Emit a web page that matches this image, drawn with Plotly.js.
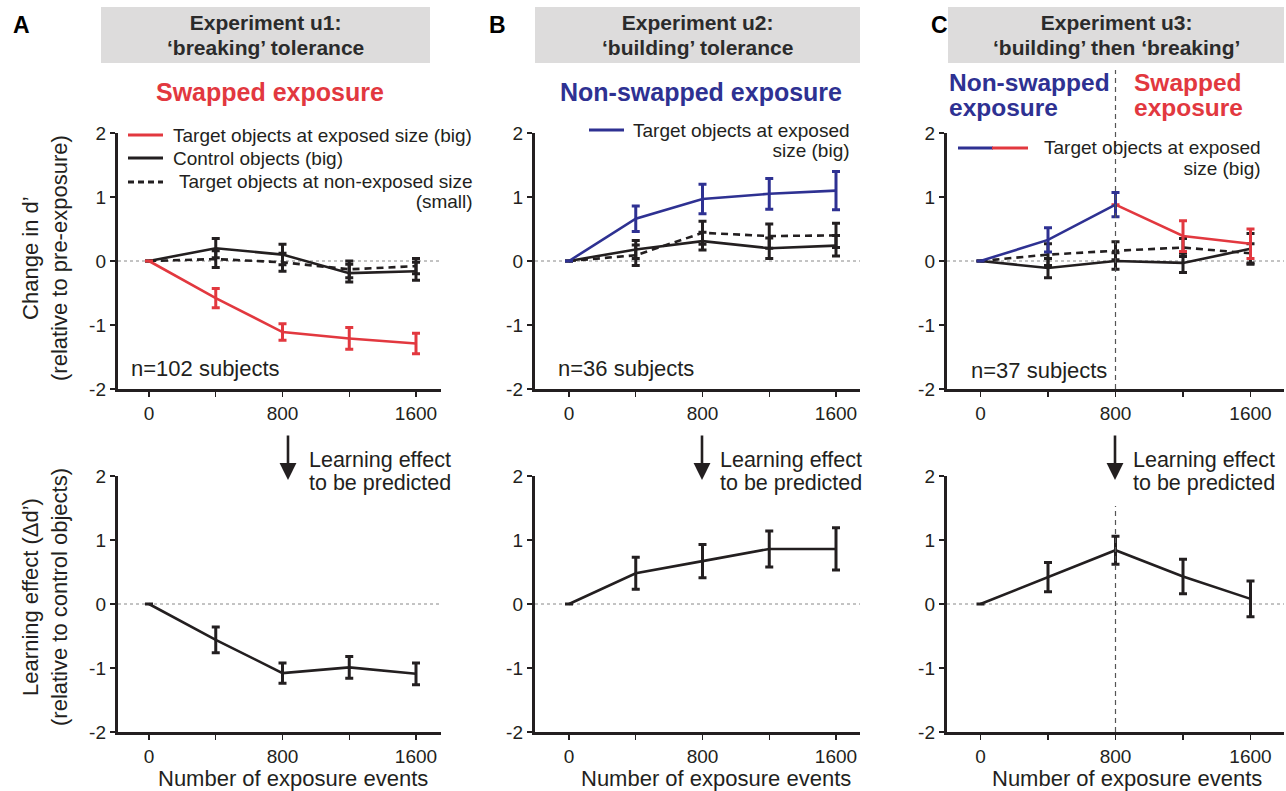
<!DOCTYPE html>
<html>
<head>
<meta charset="utf-8">
<script src="https://cdn.plot.ly/plotly-3.0.1.min.js"></script>
<style>html,body{margin:0;padding:0;background:#fff;}#chart{width:1286px;height:791px;}</style>
</head>
<body>
<div id="chart"></div>
<script>
// ---------- data ----------
const exposures = [0, 400, 800, 1200, 1600];
const xTickText = ['0', '', '800', '', '1600'];
const yTickVals = [-2, -1, 0, 1, 2];
const yTickText = ['-2', '-1', '0', '1', '2'];

// Experiment u1 (A)
const u1Target = [0, -0.58, -1.11, -1.21, -1.29];
const u1TargetErr = [0, 0.15, 0.13, 0.17, 0.16];
const u1Control = [0, 0.20, 0.10, -0.19, -0.16];
const u1ControlErr = [0, 0.15, 0.16, 0.14, 0.14];
const u1Small = [0, 0.03, -0.02, -0.13, -0.08];
const u1SmallErr = [0, 0.13, 0.14, 0.13, 0.12];
const u1Learning = [0, -0.56, -1.08, -0.99, -1.09];
const u1LearningErr = [0, 0.20, 0.16, 0.17, 0.17];

// Experiment u2 (B)
const u2Target = [0, 0.66, 0.97, 1.05, 1.10];
const u2TargetErr = [0, 0.20, 0.23, 0.24, 0.30];
const u2Control = [0, 0.18, 0.31, 0.20, 0.24];
const u2ControlErr = [0, 0.14, 0.14, 0.16, 0.16];
const u2Small = [0, 0.09, 0.44, 0.39, 0.40];
const u2SmallErr = [0, 0.16, 0.18, 0.19, 0.19];
const u2Learning = [0, 0.48, 0.67, 0.86, 0.86];
const u2LearningErr = [0, 0.25, 0.26, 0.28, 0.33];

// Experiment u3 (C)
const u3NonSwappedX = [0, 400, 800];
const u3NonSwapped = [0, 0.33, 0.88];
const u3NonSwappedErr = [0, 0.19, 0.19];
const u3SwappedX = [800, 1200, 1600];
const u3Swapped = [0.88, 0.39, 0.27];
const u3SwappedErr = [0, 0.24, 0.23];
const u3Control = [0, -0.11, 0, -0.03, 0.19];
const u3ControlErr = [0, 0.15, 0.13, 0.15, 0.24];
const u3Small = [0, 0.10, 0.16, 0.21, 0.12];
const u3SmallErr = [0, 0.17, 0.14, 0.14, 0.15];
const u3Learning = [0, 0.42, 0.84, 0.43, 0.08];
const u3LearningErr = [0, 0.23, 0.22, 0.27, 0.28];

// ---------- styling ----------
const W = 1286, H = 791;
const FONT = 'Arial, "Liberation Sans", Helvetica, sans-serif';
const BLACK = '#231f20';
const RED = '#e2383f';
const BLUE = '#2e3192';
const px = x => x / W;
const py = y => 1 - y / H;

const cols = [
  {l: 118, r: 441, p0: 149, p1600: 416},
  {l: 535, r: 860, p0: 569, p1600: 836},
  {l: 947, r: 1284, p0: 980.5, p1600: 1250.5}
];
const rows = [{t: 133, b: 389}, {t: 476, b: 732}];

function trace(x, y, err, color, dash, xa, ya) {
  return {
    x: x, y: y, xaxis: xa, yaxis: ya, type: 'scatter', mode: 'lines',
    line: {color: color, width: 2.6, dash: dash || 'solid'},
    error_y: {type: 'data', array: err, visible: true, color: color, thickness: 3, width: 4},
    showlegend: false, hoverinfo: 'skip'
  };
}

const data = [
  trace(exposures, u1Small, u1SmallErr, BLACK, '7px,5px', 'x', 'y'),
  trace(exposures, u1Control, u1ControlErr, BLACK, 'solid', 'x', 'y'),
  trace(exposures, u1Target, u1TargetErr, RED, 'solid', 'x', 'y'),
  trace(exposures, u2Small, u2SmallErr, BLACK, '7px,5px', 'x2', 'y2'),
  trace(exposures, u2Control, u2ControlErr, BLACK, 'solid', 'x2', 'y2'),
  trace(exposures, u2Target, u2TargetErr, BLUE, 'solid', 'x2', 'y2'),
  trace(exposures, u3Small, u3SmallErr, BLACK, '7px,5px', 'x3', 'y3'),
  trace(exposures, u3Control, u3ControlErr, BLACK, 'solid', 'x3', 'y3'),
  trace(u3SwappedX, u3Swapped, u3SwappedErr, RED, 'solid', 'x3', 'y3'),
  trace(u3NonSwappedX, u3NonSwapped, u3NonSwappedErr, BLUE, 'solid', 'x3', 'y3'),
  trace(exposures, u1Learning, u1LearningErr, BLACK, 'solid', 'x4', 'y4'),
  trace(exposures, u2Learning, u2LearningErr, BLACK, 'solid', 'x5', 'y5'),
  trace(exposures, u3Learning, u3LearningErr, BLACK, 'solid', 'x6', 'y6')
];

const layout = {
  width: W, height: H,
  margin: {l: 0, r: 0, t: 0, b: 0},
  paper_bgcolor: '#fff', plot_bgcolor: 'rgba(0,0,0,0)',
  font: {family: FONT, color: BLACK, size: 18},
  showlegend: false,
  shapes: [], annotations: []
};

function note(x, y, text, size, color, xanchor, extra) {
  layout.annotations.push(Object.assign({xref: 'paper', yref: 'paper', x: px(x), y: py(y),
    xanchor: xanchor || 'center', yanchor: 'middle', showarrow: false, text: text,
    font: {size: size, color: color || BLACK, family: FONT}}, extra || {}));
}
// two-line text with a tight line gap: base size sets line spacing, inner span sets glyph size
function note2(x, y, l1, l2, size, gap, color, xanchor, align, bold) {
  const b0 = bold ? '<b>' : '', b1 = bold ? '</b>' : '';
  const sp = t => '<span style="font-size:' + size + 'px">' + b0 + t + b1 + '</span>';
  note(x, y, sp(l1) + '<br>' + sp(l2), gap / 1.3, color, xanchor, {align: align || 'left'});
}

for (let r = 0; r < 2; r++) {
  for (let c = 0; c < 3; c++) {
    const i = r * 3 + c + 1;
    const col = cols[c], row = rows[r];
    const s = (col.p1600 - col.p0) / 1600;
    const xKey = i === 1 ? 'xaxis' : 'xaxis' + i;
    const yKey = i === 1 ? 'yaxis' : 'yaxis' + i;
    const xId = i === 1 ? 'x' : 'x' + i;
    const yId = i === 1 ? 'y' : 'y' + i;
    layout[xKey] = {
      domain: [px(col.l), px(col.r)], anchor: yId,
      range: [(col.l - col.p0) / s, (col.r - col.p0) / s],
      tickvals: exposures, ticktext: xTickText,
      ticks: 'outside', ticklen: 5, tickwidth: 1.2, tickcolor: BLACK,
      showline: true, linewidth: 3.2, linecolor: BLACK,
      showgrid: false, zeroline: false, fixedrange: true,
      tickfont: {size: 19, color: BLACK}
    };
    layout[yKey] = {
      domain: [py(row.b), py(row.t)], anchor: xId,
      range: [-2, 2], tickvals: yTickVals, ticktext: yTickText,
      ticks: 'outside', ticklen: 5, tickwidth: 1.2, tickcolor: BLACK,
      showline: true, linewidth: 3.2, linecolor: BLACK,
      showgrid: false, zeroline: false, fixedrange: true,
      tickfont: {size: 19, color: BLACK}
    };
    layout.shapes.push({type: 'line', xref: xId + ' domain', yref: yId, x0: 0, x1: 1, y0: 0, y1: 0,
      line: {color: '#888', width: 1, dash: '3px,3px'}, layer: 'below'});
  }
}

// axis titles
[293, 716, 1127].forEach(x => note(x, 778, 'Number of exposure events', 22));
note(45, 258, 'Change in d’<br>(relative to pre-exposure)', 22, BLACK, 'center', {textangle: -90, align: 'center'});
note(45, 597, 'Learning effect (Δd’)<br>(relative to control objects)', 22, BLACK, 'center', {textangle: -90, align: 'center'});

// vertical dashed lines at 800 in panel C
layout.shapes.push({type: 'line', xref: 'x3', yref: 'paper', x0: 800, x1: 800, y0: py(389), y1: py(70),
  line: {color: '#555', width: 1.2, dash: '5px,4px'}});
layout.shapes.push({type: 'line', xref: 'x6', yref: 'paper', x0: 800, x1: 800, y0: py(732), y1: py(506),
  line: {color: '#555', width: 1.2, dash: '5px,4px'}});

// header boxes
const headers = [
  {l: 101, r: 430, t1: 'Experiment u1:', t2: '‘breaking’ tolerance', letter: 'A', lx: 21},
  {l: 535, r: 860, t1: 'Experiment u2:', t2: '‘building’ tolerance', letter: 'B', lx: 497},
  {l: 948, r: 1284, t1: 'Experiment u3:', t2: '‘building’ then ‘breaking’', letter: 'C', lx: 939}
];
headers.forEach(h => {
  layout.shapes.push({type: 'rect', xref: 'paper', yref: 'paper', x0: px(h.l), x1: px(h.r), y0: py(63), y1: py(7),
    fillcolor: '#dddcdc', line: {width: 0}, layer: 'below'});
  note2((h.l + h.r) / 2, 35, h.t1, h.t2, 21, 25, '#2b2b2b', 'center', 'center', true);
  note(h.lx, 25, '<b>' + h.letter + '</b>', 23, '#000');
});

// condition titles
note(270, 92, '<b>Swapped exposure</b>', 25, RED);
note(701, 92, '<b>Non-swapped exposure</b>', 25, BLUE);
note2(947, 95, 'Non-swapped', 'exposure', 24.5, 25, BLUE, 'left', 'left', true);
note2(1132, 95, 'Swapped', 'exposure', 24.5, 25, RED, 'left', 'left', true);

// legends (drawn manually)
function legLine(x0, x1, y, color, dash) {
  layout.shapes.push({type: 'line', xref: 'paper', yref: 'paper', x0: px(x0), x1: px(x1), y0: py(y), y1: py(y),
    line: {color: color, width: 3, dash: dash || 'solid'}});
}
const LF = 19;
legLine(128, 163, 135, RED); note(171, 135, 'Target objects at exposed size (big)', LF, BLACK, 'left');
legLine(128, 163, 158, BLACK); note(171, 158, 'Control objects (big)', LF, BLACK, 'left');
legLine(128, 163, 182, BLACK, '6px,4px');
note2(475, 191, 'Target objects at non-exposed size', '(small)', LF, 19.5, BLACK, 'right', 'right');
legLine(589, 624, 130, BLUE);
note2(852, 140, 'Target objects at exposed', 'size (big)', LF, 20, BLACK, 'right', 'right');
legLine(958, 993, 148, BLUE); legLine(992, 1028, 148, RED);
note2(1263, 158, 'Target objects at exposed', 'size (big)', LF, 21, BLACK, 'right', 'right');

// n subjects
note(129, 368, 'n=102 subjects', 22, BLACK, 'left');
note(556, 368, 'n=36 subjects', 22, BLACK, 'left');
note(969, 370, 'n=37 subjects', 22, BLACK, 'left');

// arrows + "Learning effect to be predicted"
[[288, 307], [702, 718], [1115, 1131]].forEach(([ax, tx]) => {
  layout.annotations.push({xref: 'paper', yref: 'paper', x: px(ax), y: py(480), ax: 0, ay: -46,
    axref: 'pixel', ayref: 'pixel', showarrow: true, arrowhead: 2, arrowsize: 1.3, arrowwidth: 2.6,
    arrowcolor: BLACK, text: ''});
  note2(tx, 472, 'Learning effect', 'to be predicted', 21.5, 23, BLACK, 'left', 'left');
});

Plotly.newPlot('chart', data, layout, {staticPlot: true, displayModeBar: false});
</script>
</body>
</html>
